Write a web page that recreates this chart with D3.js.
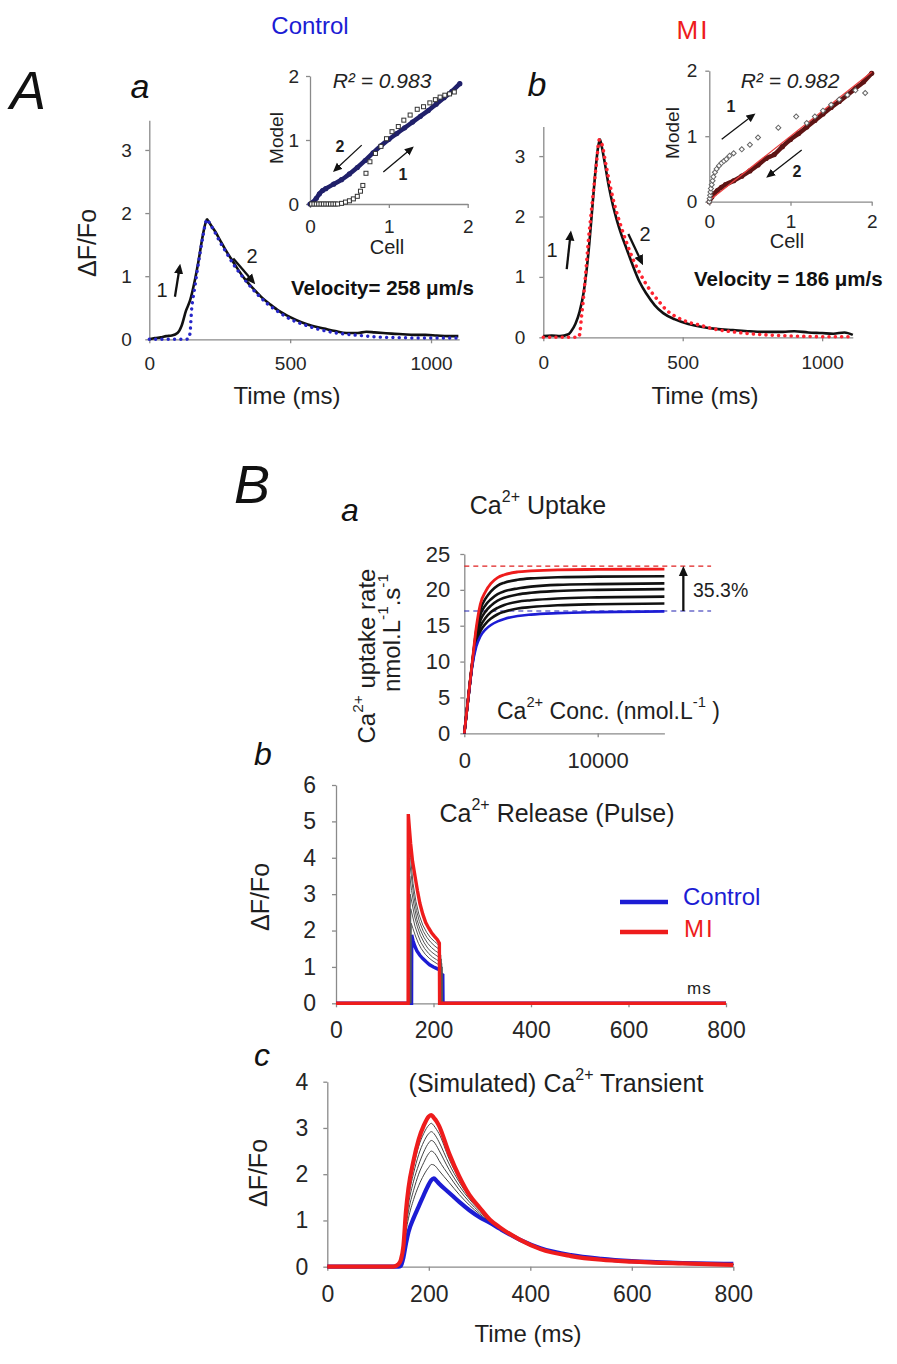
<!DOCTYPE html>
<html><head><meta charset="utf-8">
<script src="https://cdn.jsdelivr.net/npm/d3@7"></script>
<style>body{margin:0;background:#fff;}</style>
</head><body>
<svg id="fig" width="897" height="1364" xmlns="http://www.w3.org/2000/svg"></svg>
<script>
// ---------------- DATA ----------------
// Panel A-a (Control): measured transient (black) and model (blue dotted)
const aCellT = [0,20,40,60,80,100,115,130,145,160,175,190,200,205,210,220,235,250,270,290,310,340,370,400,430,460,500,540,580,620,660,700,740,770,800,830,860,900,940,980,1020,1060,1097];
const aCellV = [0.00,0.02,0.03,0.05,0.06,0.10,0.22,0.45,0.62,0.90,1.25,1.65,1.85,1.90,1.87,1.80,1.70,1.58,1.42,1.28,1.14,0.95,0.80,0.66,0.55,0.45,0.35,0.27,0.21,0.17,0.13,0.10,0.10,0.12,0.11,0.10,0.09,0.08,0.07,0.07,0.06,0.05,0.05];
const aModelT = [0,100,130,140,145,150,160,170,180,190,200,205,215,230,250,270,300,340,380,420,460,500,550,600,650,700,750,800,850,900,950,1000,1050,1097];
const aModelV = [0,0,0,0.01,0.12,0.46,0.78,1.08,1.36,1.62,1.85,1.90,1.83,1.72,1.55,1.40,1.18,0.94,0.73,0.56,0.43,0.32,0.23,0.16,0.11,0.08,0.06,0.04,0.03,0.025,0.02,0.02,0.02,0.02];
// Panel A-b (MI)
const bCellT = [0,30,60,90,100,115,130,145,155,165,175,185,195,203,210,220,235,250,265,280,300,320,345,370,400,430,470,520,570,620,680,740,800,860,900,950,1000,1040,1080,1110];
const bCellV = [0.02,0.03,0.02,0.05,0.10,0.22,0.42,0.75,1.10,1.55,2.10,2.65,3.10,3.28,3.15,2.90,2.50,2.18,1.92,1.70,1.45,1.20,0.92,0.72,0.53,0.40,0.30,0.22,0.17,0.14,0.12,0.10,0.09,0.09,0.10,0.08,0.07,0.06,0.08,0.04];
const bModelT = [0,125,130,137,143,149,155,161,170,179,190,201,210,225,240,258,275,300,323,350,383,410,442,480,520,562,620,682,740,800,900,1000,1100];
const bModelV = [0,0,0.04,0.34,0.60,0.90,1.22,1.56,1.98,2.38,2.85,3.27,3.20,2.85,2.50,2.15,1.89,1.55,1.28,1.03,0.78,0.62,0.45,0.33,0.25,0.20,0.13,0.09,0.06,0.04,0.02,0.01,0.01];
// Insets: Model vs Cell
const insetABandCell  = [0,0.04,0.08,0.12,0.16,0.2,0.3,0.4,0.5,0.6,0.7,0.8,0.9,1.0,1.1,1.2,1.3,1.4,1.5,1.6,1.7,1.8,1.9];
const insetABandModel = [0,0.03,0.09,0.16,0.21,0.24,0.31,0.38,0.47,0.57,0.68,0.8,0.91,1.01,1.1,1.19,1.28,1.37,1.46,1.56,1.66,1.76,1.88];
const insetASqCell  = [0.02,0.05,0.08,0.11,0.14,0.17,0.2,0.23,0.26,0.29,0.32,0.35,0.4,0.45,0.5,0.55,0.6,0.64,0.67,0.71,0.76,0.83,0.9,0.97,1.04,1.12,1.19,1.27,1.36,1.44,1.52,1.59,1.65,1.71,1.77,1.83];
const insetASqModel = [0,0,0,0,0,0,0,0,0,0,0,0,0.01,0.03,0.05,0.08,0.12,0.2,0.29,0.48,0.66,0.79,0.9,1.02,1.13,1.21,1.31,1.39,1.48,1.52,1.58,1.63,1.67,1.7,1.72,1.75];
const insetBBandCell  = [0,0.03,0.06,0.1,0.15,0.2,0.3,0.4,0.5,0.6,0.7,0.8,0.9,1.0,1.1,1.2,1.3,1.4,1.5,1.6,1.7,1.8,1.9,2.0];
const insetBBandModel = [0,0.07,0.12,0.17,0.22,0.26,0.32,0.39,0.47,0.56,0.66,0.72,0.84,0.95,1.04,1.14,1.24,1.34,1.44,1.53,1.63,1.73,1.83,1.96];
const insetBTrendCell = [0,2.0];
const insetBTrendModel = [0.02,1.98];
const insetBDiaCell  = [0,0.005,0.01,0.015,0.02,0.03,0.04,0.05,0.07,0.09,0.12,0.15,0.18,0.21,0.25,0.3,0.4,0.5,0.6,0.85,1.07,1.2,1.3,1.4,1.5,1.6,1.7,1.8,1.92];
const insetBDiaModel = [0,0.05,0.1,0.15,0.2,0.26,0.32,0.38,0.45,0.5,0.55,0.59,0.62,0.65,0.7,0.74,0.8,0.87,0.98,1.13,1.3,1.2,1.3,1.39,1.48,1.56,1.63,1.7,1.66];
// Panel B-a: Ca2+ uptake
const uptakeConc = [0,300,600,900,1200,1600,2000,2500,3000,4000,5000,7000,10000,15000];
const uptakeBlue = [0,4.9,9.4,12.1,13.5,14.5,15.1,15.6,15.95,16.35,16.55,16.75,16.9,17.0];
const uptakeRed  = [0,5.0,10.0,14.8,18.0,19.8,20.9,21.7,22.1,22.5,22.65,22.8,22.85,22.9];
const uptakeMid = [
  [0,4.9,9.6,12.6,14.2,15.3,16.0,16.6,16.95,17.4,17.6,17.85,18.0,18.1],
  [0,4.9,9.7,13.1,14.9,16.1,16.9,17.5,17.9,18.35,18.55,18.8,18.95,19.05],
  [0,5.0,9.8,13.6,15.7,17.0,17.8,18.5,18.9,19.35,19.6,19.85,20.0,20.1],
  [0,5.0,9.9,14.0,16.5,17.9,18.7,19.4,19.8,20.2,20.45,20.7,20.8,20.9],
  [0,5.0,9.9,14.4,17.2,18.8,19.8,20.6,21.0,21.4,21.6,21.75,21.85,21.9]];
const uptakeRefLevels = [23.3, 17.05];   // red, blue dashed
const uptakeRefExtent = [0, 18500];
const uptakeArrowConc = 16420;
// Panel B-b: Ca2+ release pulse
const pulseRedT  = [0,148,148.3,150,153,157,162,167,172,178,184,190,196,202,208,212,212.5,800];
const pulseRedV  = [0,0,5.2,4.9,4.4,3.9,3.5,3.1,2.75,2.45,2.22,2.07,1.94,1.84,1.75,1.65,0,0];
const pulseBlueT = [0,155,155.3,158,162,166,172,178,185,192,200,206,212,214,219,219.5,800];
const pulseBlueV = [0,0,1.88,1.72,1.56,1.44,1.32,1.23,1.14,1.06,1.0,0.96,0.92,0.82,0.78,0,0];
const pulseMidT = [
  [149,149.3,153,158,164,170,178,186,194,202,209,213,213.5],
  [150,150.3,154,159,165,171,179,187,195,203,210,214,214.5],
  [151,151.3,155,160,166,172,180,188,196,204,211,215,215.5],
  [152,152.3,156,161,167,173,181,189,197,205,212,216,216.5],
  [153,153.3,157,162,168,174,182,190,198,206,213,217,217.5],
  [154,154.3,158,163,169,175,183,191,199,207,214,218,218.5]];
const pulseMidV = [
  [0,4.6,4.0,3.3,2.8,2.45,2.15,1.95,1.8,1.7,1.62,1.55,0],
  [0,4.0,3.55,3.0,2.55,2.25,1.98,1.8,1.67,1.57,1.5,1.44,0],
  [0,3.5,3.1,2.7,2.3,2.05,1.82,1.65,1.53,1.44,1.38,1.33,0],
  [0,3.0,2.75,2.4,2.1,1.87,1.66,1.5,1.4,1.32,1.26,1.22,0],
  [0,2.6,2.4,2.12,1.88,1.68,1.5,1.37,1.27,1.2,1.15,1.1,0],
  [0,2.2,2.05,1.85,1.65,1.5,1.35,1.24,1.16,1.09,1.04,1.0,0]];
// Panel B-c: simulated transient
const transT = [0,130,140,145,150,155,160,170,180,190,200,205,210,215,220,240,260,280,300,320,340,380,420,480,540,600,700,800];
const transRed  = [0,0,0.05,0.15,0.45,1.2,1.7,2.3,2.75,3.05,3.25,3.28,3.22,3.15,3.05,2.45,1.95,1.55,1.28,1.02,0.85,0.58,0.38,0.23,0.15,0.11,0.07,0.04];
const transBlue = [0,0,0,0.02,0.2,0.5,0.75,1.05,1.3,1.55,1.78,1.87,1.91,1.86,1.8,1.6,1.4,1.22,1.07,0.95,0.82,0.58,0.4,0.25,0.17,0.12,0.08,0.06];
const transMid = [
  [0,0,0.02,0.08,0.3,0.75,1.05,1.45,1.75,1.98,2.15,2.21,2.2,2.15,2.08,1.82,1.56,1.33,1.14,0.98,0.84,0.58,0.39,0.24,0.16,0.12,0.07,0.05],
  [0,0,0.03,0.1,0.35,0.85,1.2,1.65,2.0,2.25,2.45,2.5,2.47,2.4,2.3,1.97,1.66,1.4,1.18,1.0,0.85,0.58,0.39,0.24,0.16,0.12,0.07,0.05],
  [0,0,0.03,0.11,0.38,0.95,1.35,1.85,2.2,2.48,2.68,2.73,2.7,2.62,2.52,2.1,1.75,1.46,1.22,1.01,0.85,0.58,0.39,0.24,0.16,0.11,0.07,0.05],
  [0,0,0.04,0.12,0.4,1.02,1.48,2.02,2.42,2.7,2.88,2.92,2.88,2.8,2.7,2.22,1.83,1.5,1.25,1.01,0.85,0.58,0.38,0.23,0.16,0.11,0.07,0.05],
  [0,0,0.04,0.14,0.43,1.1,1.6,2.17,2.6,2.88,3.06,3.1,3.05,2.97,2.88,2.33,1.89,1.53,1.27,1.02,0.85,0.58,0.38,0.23,0.15,0.11,0.07,0.04]];
// Tick values
const ticksA_x = [0,500,1000], ticksA_y = [0,1,2,3], ticksInset = [0,1,2];
const ticksBa_x = [0,10000], ticksBa_y = [0,5,10,15,20,25];
const ticksBb_x = [0,200,400,600,800], ticksBb_y = [0,1,2,3,4,5,6];
const ticksBc_x = [0,200,400,600,800], ticksBc_y = [0,1,2,3,4];

// ---------------- DRAWING ----------------
const SANS = "'Liberation Sans', Arial, sans-serif";
const NARROW = "'Liberation Sans Narrow','Liberation Sans', Arial, sans-serif";
const BLUE = "#1c1cd4", RED = "#ee1c1c", NAVY = "#20206a";
const svg = d3.select('#fig');
const defs = svg.append('defs');
function marker(id, w){
  defs.append('marker').attr('id',id).attr('viewBox','0 0 10 10').attr('refX',7).attr('refY',5)
    .attr('markerWidth',w).attr('markerHeight',w).attr('orient','auto')
    .append('path').attr('d','M0,0.5 L10,5 L0,9.5 z').attr('fill','#111');
}
marker('ahBig',4.4); marker('ahSmall',7);

function txt(x,y,parts,o={}){
  const size=o.size||20;
  const t=svg.append('text').attr('x',x).attr('y',y).attr('font-size',size)
    .attr('fill',o.fill||'#1e1e1e').attr('text-anchor',o.anchor||'middle')
    .attr('dominant-baseline','central').attr('font-family',o.family||SANS);
  if(o.italic) t.attr('font-style','italic');
  if(o.bold) t.attr('font-weight','bold');
  if(o.ls) t.attr('letter-spacing',o.ls);
  if(o.rotate) t.attr('transform',`rotate(${o.rotate},${x},${y})`);
  if(typeof parts==='string') parts=[parts];
  let shift=0;
  parts.forEach(p=>{
    const sup = typeof p!=='string';
    const s = sup? p.sup : p;
    const target = sup? -size*0.38 : 0;
    const sp=t.append('tspan').text(s);
    if(target!==shift){ sp.attr('dy',target-shift); shift=target; }
    if(sup) sp.attr('font-size',size*0.64);
  });
  return t;
}
function axes(x,y,o){
  const gx=svg.append('g').attr('transform',`translate(0,${y.range()[0]})`)
    .call(d3.axisBottom(x).tickValues(o.xt).tickSize(o.ts).tickSizeOuter(0).tickPadding(o.xp).tickFormat(d3.format('d')));
  const gy=svg.append('g').attr('transform',`translate(${x.range()[0]},0)`)
    .call(d3.axisLeft(y).tickValues(o.yt).tickSize(o.ts).tickSizeOuter(0).tickPadding(o.yp).tickFormat(d3.format('d')));
  [gx,gy].forEach(g=>{
    g.select('.domain').attr('stroke','#8a8a8a').attr('stroke-width',1.3);
    g.selectAll('.tick line').attr('stroke','#8a8a8a').attr('stroke-width',1.3);
    g.selectAll('.tick text').attr('font-size',o.fs).attr('fill','#262626').attr('font-family',SANS);
  });
}
function path(x,y,xs,ys,style,curve){
  const pts=xs.map((v,i)=>[v,ys[i]]);
  const p=svg.append('path').attr('d',d3.line().x(d=>x(d[0])).y(d=>y(d[1])).curve(curve||d3.curveLinear)(pts))
    .attr('fill','none');
  Object.entries(style).forEach(([k,v])=>p.attr(k,v));
  return p;
}
function arrow(x,y,from,to,big){
  svg.append('line').attr('x1',x(from[0])).attr('y1',y(from[1])).attr('x2',x(to[0])).attr('y2',y(to[1]))
    .attr('stroke','#111').attr('stroke-width',big?2.3:1.3).attr('marker-end',`url(#${big?'ahBig':'ahSmall'})`);
}

// ===== Panel A =====
txt(310,25,'Control',{size:24,fill:BLUE});
txt(693,30,'MI',{size:26,fill:RED,ls:2});
txt(28,90,'A',{size:54,italic:true,fill:'#111'});
txt(140,86,'a',{size:34,italic:true,fill:'#111'});
txt(537,84,'b',{size:34,italic:true,fill:'#111'});

// A-a main
const xAa=d3.scaleLinear([0,1100],[149.3,459.2]), yAa=d3.scaleLinear([0,3.47],[339.3,120.3]);
axes(xAa,yAa,{xt:ticksA_x,yt:ticksA_y,ts:4,xp:13.5,yp:13.5,fs:19});
path(xAa,yAa,aCellT,aCellV,{stroke:'#111','stroke-width':2.6,'stroke-linejoin':'round'},d3.curveMonotoneX);
path(xAa,yAa,aModelT,aModelV,{stroke:'#2626c8','stroke-width':3.4,'stroke-dasharray':'0.01,6.3','stroke-linecap':'round'},d3.curveMonotoneX);
txt(86.7,243,'ΔF/Fo',{size:25,rotate:-90});
txt(287,395,'Time (ms)',{size:24});
arrow(xAa,yAa,[91,0.675],[108,1.15],true);
arrow(xAa,yAa,[298,1.28],[369,0.91],true);
txt(162,290,'1',{size:20});
txt(252,256,'2',{size:20});
txt(291,287,'Velocity= 258 μm/s',{size:20.5,bold:true,anchor:'start',fill:'#111'});

// A-a inset
const xIa=d3.scaleLinear([0,2],[310,467.7]), yIa=d3.scaleLinear([0,2],[204,76]);
axes(xIa,yIa,{xt:ticksInset,yt:ticksInset,ts:4,xp:12,yp:7,fs:19});
path(xIa,yIa,insetABandCell,insetABandModel,{stroke:NAVY,'stroke-width':4.5,'stroke-linecap':'round','stroke-linejoin':'round'},d3.curveMonotoneX);
svg.append('g').selectAll('circle').data(insetABandCell).join('circle')
  .attr('cx',(d)=>xIa(d)).attr('cy',(d,i)=>yIa(insetABandModel[i])).attr('r',2.6).attr('fill',NAVY);
svg.append('g').selectAll('rect').data(insetASqCell).join('rect')
  .attr('x',d=>xIa(d)-2).attr('y',(d,i)=>yIa(insetASqModel[i])-2).attr('width',4).attr('height',4)
  .attr('fill','#fff').attr('stroke','#333').attr('stroke-width',1);
txt(382,80,'R² = 0.983',{size:21,italic:true,fill:'#222'});
txt(276,138,'Model',{size:19,rotate:-90});
txt(387,247,'Cell',{size:20});
arrow(xIa,yIa,[0.656,0.92],[0.317,0.53],false);
arrow(xIa,yIa,[0.93,0.5],[1.29,0.87],false);
txt(340,146,'2',{size:16,bold:true});
txt(403,174,'1',{size:16,bold:true});

// A-b main
const xAb=d3.scaleLinear([0,1110],[543.3,852.8]), yAb=d3.scaleLinear([0,3.49],[337.3,126.5]);
axes(xAb,yAb,{xt:ticksA_x,yt:ticksA_y,ts:4,xp:14,yp:14,fs:19});
path(xAb,yAb,bCellT,bCellV,{stroke:'#111','stroke-width':2.6,'stroke-linejoin':'round'},d3.curveMonotoneX);
path(xAb,yAb,bModelT,bModelV,{stroke:'#ff2430','stroke-width':3.6,'stroke-dasharray':'0.01,6.3','stroke-linecap':'round'},d3.curveMonotoneX);
txt(705,395,'Time (ms)',{size:24});
arrow(xAb,yAb,[84,1.13],[98,1.72],true);
arrow(xAb,yAb,[305,1.71],[353,1.24],true);
txt(552,250,'1',{size:20});
txt(645,234,'2',{size:20});
txt(694,278,'Velocity = 186 μm/s',{size:20.5,bold:true,anchor:'start',fill:'#111'});

// A-b inset
const xIb=d3.scaleLinear([0,2],[709.3,871.7]), yIb=d3.scaleLinear([0,2],[201.7,70.7]);
axes(xIb,yIb,{xt:ticksInset,yt:ticksInset,ts:4,xp:9,yp:8,fs:19});
path(xIb,yIb,insetBBandCell,insetBBandModel,{stroke:'#5e1414','stroke-width':4.5,'stroke-linecap':'round','stroke-linejoin':'round'},d3.curveMonotoneX);
svg.append('g').selectAll('circle').data(insetBBandCell).join('circle')
  .attr('cx',d=>xIb(d)).attr('cy',(d,i)=>yIb(insetBBandModel[i])).attr('r',2.6).attr('fill','#5e1414');
path(xIb,yIb,insetBTrendCell,insetBTrendModel,{stroke:'#e84040','stroke-width':1.3});
svg.append('g').selectAll('rect').data(insetBDiaCell).join('rect')
  .attr('transform',(d,i)=>`translate(${xIb(d)},${yIb(insetBDiaModel[i])}) rotate(45)`)
  .attr('x',-1.8).attr('y',-1.8).attr('width',3.6).attr('height',3.6)
  .attr('fill','#fff').attr('stroke','#666').attr('stroke-width',1);
txt(790,80,'R² = 0.982',{size:21,italic:true,fill:'#222'});
txt(672,133,'Model',{size:19,rotate:-90});
txt(787,241,'Cell',{size:20});
arrow(xIb,yIb,[0.153,0.953],[0.542,1.323],false);
arrow(xIb,yIb,[1.138,0.789],[0.727,0.392],false);
txt(731,106,'1',{size:16,bold:true});
txt(797,171,'2',{size:16,bold:true});

// ===== Panel B =====
txt(252,484,'B',{size:54,italic:true,fill:'#111'});
txt(350,510,'a',{size:32,italic:true,fill:'#111'});
txt(263,754,'b',{size:32,italic:true,fill:'#111'});
txt(262,1055,'c',{size:32,italic:true,fill:'#111'});

// B-a uptake
const xBa=d3.scaleLinear([0,15000],[464.3,664.4]), yBa=d3.scaleLinear([0,25],[733.3,554]);
axes(xBa,yBa,{xt:ticksBa_x,yt:ticksBa_y,ts:4,xp:15,yp:10,fs:22});
svg.selectAll('.baRef').data(uptakeRefLevels).join('line')
  .attr('x1',xBa(uptakeRefExtent[0])).attr('x2',xBa(uptakeRefExtent[1]))
  .attr('y1',d=>yBa(d)).attr('y2',d=>yBa(d))
  .attr('stroke',(d,i)=>i===0?'#e02020':'#2020b0').attr('stroke-width',1.2).attr('stroke-dasharray','5,4');
uptakeMid.forEach(v=>path(xBa,yBa,uptakeConc,v,{stroke:'#111','stroke-width':2.6},d3.curveMonotoneX));
path(xBa,yBa,uptakeConc,uptakeBlue,{stroke:BLUE,'stroke-width':2.6},d3.curveMonotoneX);
path(xBa,yBa,uptakeConc,uptakeRed,{stroke:RED,'stroke-width':2.8},d3.curveMonotoneX);
arrow(xBa,yBa,[uptakeArrowConc,uptakeRefLevels[1]],[uptakeArrowConc,uptakeRefLevels[0]-0.4],true);
txt(538,505,['Ca',{sup:'2+'},' Uptake'],{size:25});
txt(693,590,'35.3%',{size:19.5,anchor:'start',family:NARROW});
txt(497,711,['Ca',{sup:'2+'},' Conc. (nmol.L',{sup:'-1'},' )'],{size:23,anchor:'start'});
txt(366,656,['Ca',{sup:'2+'},' uptake rate'],{size:24,rotate:-90});
txt(391,633,['nmol.L',{sup:'-1'},'.s',{sup:'-1'}],{size:24,rotate:-90});

// B-b release pulse
const xBb=d3.scaleLinear([0,800],[336,726]), yBb=d3.scaleLinear([0,6],[1003.3,785]);
axes(xBb,yBb,{xt:ticksBb_x,yt:ticksBb_y,ts:4,xp:14.5,yp:16,fs:23});
path(xBb,yBb,pulseBlueT,pulseBlueV,{stroke:BLUE,'stroke-width':3.4});
pulseMidT.forEach((t,k)=>path(xBb,yBb,t,pulseMidV[k],{stroke:'#555','stroke-width':1}));
path(xBb,yBb,pulseRedT,pulseRedV,{stroke:RED,'stroke-width':3.4});
txt(557,813,['Ca',{sup:'2+'},' Release (Pulse)'],{size:25});
txt(260,897,'ΔF/Fo',{size:25,rotate:-90});
svg.append('line').attr('x1',620).attr('x2',668).attr('y1',902).attr('y2',902).attr('stroke',BLUE).attr('stroke-width',4.5);
svg.append('line').attr('x1',620).attr('x2',668).attr('y1',932).attr('y2',932).attr('stroke',RED).attr('stroke-width',4.5);
txt(683,896,'Control',{size:24,anchor:'start',fill:BLUE});
txt(684,928,'MI',{size:24,anchor:'start',fill:RED,ls:2});
txt(687,988,'ms',{size:17,anchor:'start',ls:1});

// B-c simulated transient
const xBc=d3.scaleLinear([0,800],[327.3,733.3]), yBc=d3.scaleLinear([0,4],[1266.7,1081.7]);
axes(xBc,yBc,{xt:ticksBc_x,yt:ticksBc_y,ts:4,xp:14.5,yp:15,fs:23});
path(xBc,yBc,transT,transBlue,{stroke:BLUE,'stroke-width':4.2},d3.curveMonotoneX);
transMid.forEach(v=>path(xBc,yBc,transT,v,{stroke:'#444','stroke-width':1},d3.curveMonotoneX));
path(xBc,yBc,transT,transRed,{stroke:RED,'stroke-width':4.2},d3.curveMonotoneX);
txt(556,1083,['(Simulated) Ca',{sup:'2+'},' Transient'],{size:25});
txt(258,1173,'ΔF/Fo',{size:25,rotate:-90});
txt(528,1333,'Time (ms)',{size:24});
</script>
</body></html>
